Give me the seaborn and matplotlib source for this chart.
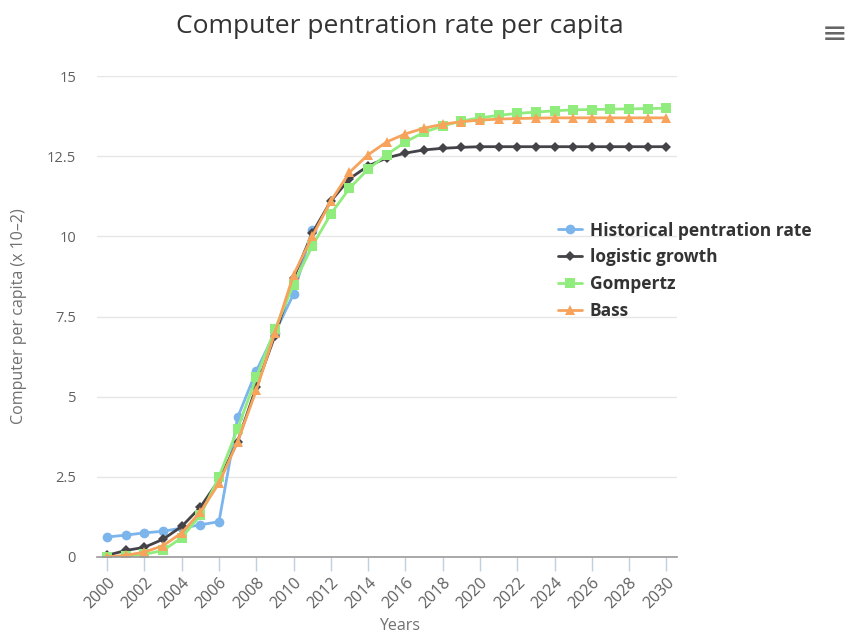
import numpy as np
import pandas as pd
import seaborn as sns
import matplotlib.pyplot as plt

# chart values
years = list(range(2000, 2031))

historical = [0.62, 0.68, 0.75, 0.80, 0.90, 1.00, 1.10, 4.35, 5.80, 7.00, 8.20, 10.20]

logistic = [0.05, 0.20, 0.30, 0.55, 0.95, 1.55, 2.40, 3.60, 5.30, 6.90, 8.70,
            10.10, 11.10, 11.80, 12.20, 12.45, 12.60, 12.70, 12.75, 12.78, 12.80,
            12.80, 12.80, 12.80, 12.80, 12.80, 12.80, 12.80, 12.80, 12.80, 12.80]

gompertz = [0.00, 0.02, 0.08, 0.20, 0.60, 1.30, 2.50, 4.00, 5.60, 7.10, 8.50,
            9.70, 10.70, 11.50, 12.10, 12.55, 12.95, 13.25, 13.45, 13.60, 13.70,
            13.78, 13.84, 13.88, 13.92, 13.95, 13.96, 13.97, 13.98, 13.99, 14.00]

bass = [0.00, 0.05, 0.15, 0.35, 0.75, 1.40, 2.30, 3.60, 5.20, 7.00, 8.80,
        10.00, 11.10, 12.00, 12.55, 12.95, 13.20, 13.38, 13.50, 13.58, 13.63,
        13.66, 13.68, 13.69, 13.70, 13.70, 13.70, 13.70, 13.70, 13.70, 13.70]

series_names = ["Historical pentration rate", "logistic growth", "Gompertz", "Bass"]
y_ticks = [0, 2.5, 5, 7.5, 10, 12.5, 15]
y_tick_labels = ["0", "2.5", "5", "7.5", "10", "12.5", "15"]

colors = ["#7cb5ec", "#434348", "#90ed7d", "#f7a35c"]
markers = ["o", "D", "s", "^"]
msizes = [7, 5, 7, 7]

sns.set_theme(style="white")
plt.rcParams['font.family'] = ['Open Sans', 'DejaVu Sans']

fig = plt.figure(figsize=(8.5, 6.35), dpi=100)
ax = fig.add_axes([0.114, 0.123, 0.682, 0.757])

all_values = [historical, logistic, gompertz, bass]
for name, vals, c, m, ms in zip(series_names, all_values, colors, markers, msizes):
    df = pd.DataFrame({"Year": years[:len(vals)], "Value": vals})
    sns.lineplot(data=df, x="Year", y="Value", ax=ax, color=c, marker=m,
                 markersize=ms, markeredgewidth=0, linewidth=2, label=name)

ax.set_xlim(2000 - 0.55, 2030 + 0.55)
ax.set_ylim(0, 15)
ax.set_yticks(y_ticks)
ax.set_yticklabels(y_tick_labels)
ax.set_xticks(years[::2])
ax.set_xticklabels([str(y) for y in years[::2]], rotation=45, ha="right",
                   rotation_mode="anchor")

ax.yaxis.grid(True, color="#e6e6e6", linewidth=1)
ax.xaxis.grid(False)
for s in ["top", "right", "left"]:
    ax.spines[s].set_visible(False)
ax.spines["bottom"].set_color("#9a9a9a")
ax.spines["bottom"].set_linewidth(1.2)
ax.tick_params(axis="x", bottom=True, length=10, width=1, color="#c0d0e0",
               labelsize=11.5, labelcolor="#606060", pad=3)
ax.tick_params(axis="y", left=False, labelsize=10.5, labelcolor="#606060", pad=9)

ax.set_ylabel("Computer per capita (x 10\u20132)", color="#707070", fontsize=11.5)
ax.yaxis.set_label_coords(-0.12, 0.5)
ax.set_xlabel("")
fig.text(0.47, 0.001, "Years", ha="center", va="bottom", fontsize=11.5,
         color="#707070")

fig.text(0.47, 0.958, "Computer pentration rate per capita", ha="center",
         va="center", fontsize=19, color="#333333")
fig.text(0.982, 0.945, "\u2261", ha="center", va="center", fontsize=22,
         color="#666666", family=["DejaVu Sans"])

leg = ax.legend(loc="upper left", bbox_to_anchor=(0.648, 0.662),
                bbox_transform=fig.transFigure, frameon=False,
                prop={"weight": "bold", "size": 12.5}, handlelength=1.4,
                handletextpad=0.45, labelspacing=0.5, borderaxespad=0)
for t in leg.get_texts():
    t.set_color("#333333")

fig.savefig("out.png", dpi=100)
